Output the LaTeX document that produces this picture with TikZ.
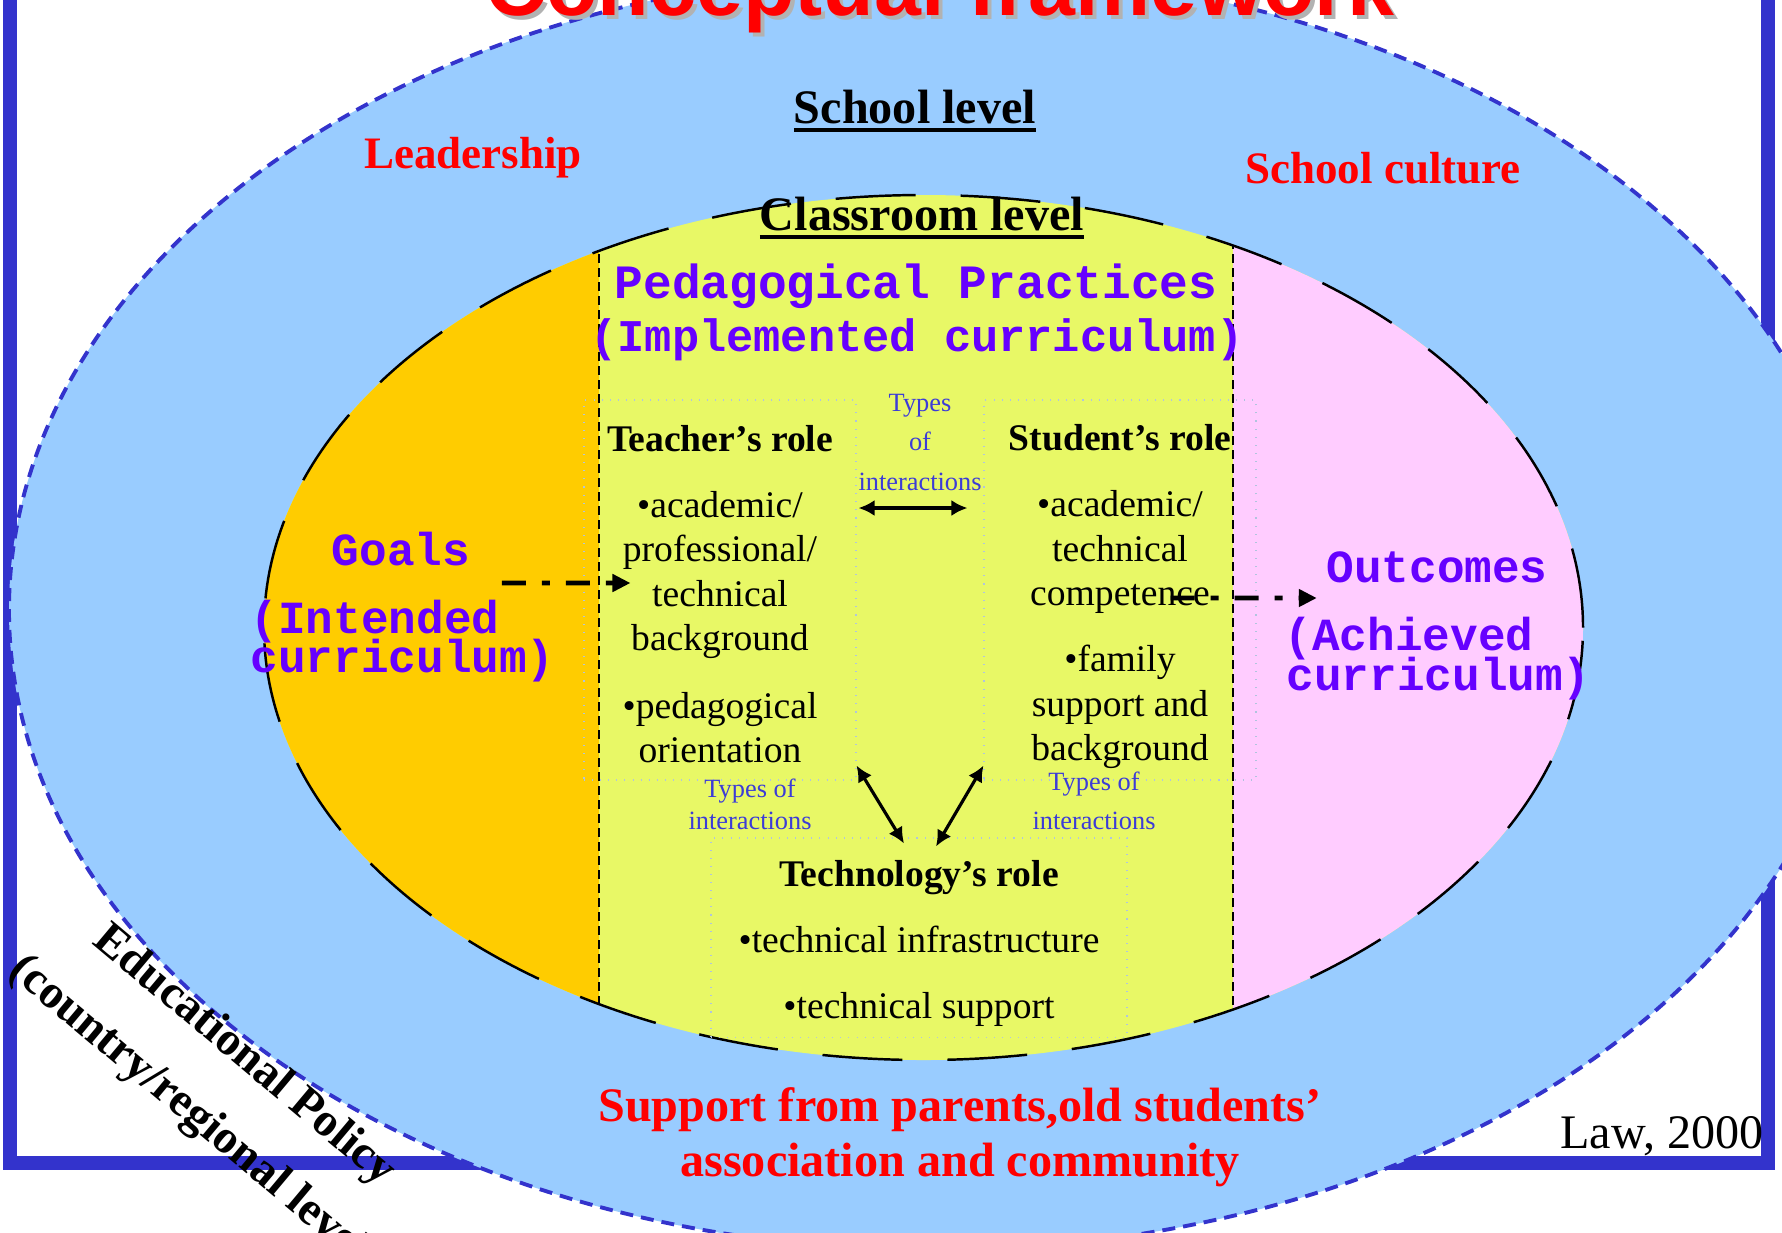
\documentclass[tikz,border=0pt]{standalone}
\usepackage{fontspec}
\setmainfont{Liberation Serif}
\newfontfamily\courierfont{Liberation Mono}
\newfontfamily\arialfont{Liberation Sans}
\usepackage{tikz}
\usetikzlibrary{arrows.meta,positioning}

\definecolor{frameblue}{RGB}{51,51,204}
\definecolor{schoolsky}{RGB}{153,204,255}
\definecolor{goalorange}{RGB}{255,204,0}
\definecolor{classyellow}{RGB}{232,248,102}
\definecolor{outpink}{RGB}{255,204,255}
\definecolor{curpurple}{RGB}{102,0,255}
\definecolor{typeblue}{RGB}{60,60,215}
\definecolor{boxgray}{RGB}{176,196,222}

\newsavebox\levelbox
\newcommand{\levelul}[1]{\sbox\levelbox{#1}\rlap{\rule[-2.6pt]{\wd\levelbox}{1.1pt}}\usebox\levelbox}

\begin{document}
\begin{tikzpicture}
				[inner sep=0pt,
				rolebox/.style		= {draw=boxgray, dotted, line width=0.3pt, align=center, font=\fontsize{10.7}{12.6}\selectfont},
				levelhead/.style	= {anchor=base, font=\bfseries\fontsize{13.7}{16}\selectfont},
				redhead/.style		= {anchor=base, text=red, font=\bfseries\fontsize{12.8}{15}\selectfont},
				curtext/.style		= {anchor=base, text=curpurple, font=\courierfont\bfseries\fontsize{13.1}{15}\selectfont},
				typetext/.style		= {anchor=north, text=typeblue, align=center, font=\fontsize{7.5}{11.1}\selectfont},
				flowarrow/.style	= {line width=1.4pt, dash pattern=on 0.24cm off 0.16cm on 0.08cm off 0.16cm, -{Triangle[length=0.18cm,width=0.17cm]}},
				linkarrow/.style	= {line width=0.9pt, {Latex[length=0.16cm,width=0.16cm]}-{Latex[length=0.16cm,width=0.16cm]}}]

				\useasboundingbox (0,0) rectangle (17.82,-12.32);

				% frame and the two levels
				\draw [frameblue, line width=0.14cm] (0.10,0.5) rectangle (17.68,-11.63);
				\draw [fill=schoolsky, draw=frameblue, line width=1.1pt, dash pattern=on 0.13cm off 0.08cm]
					(9.34,-6.10) ellipse [x radius=9.25cm, y radius=6.40cm];
				\fill [classyellow] (9.235,-6.275) ellipse [x radius=6.595cm, y radius=4.325cm];
				\begin{scope}
				\clip (9.235,-6.275) ellipse [x radius=6.595cm, y radius=4.325cm];
				\fill [goalorange] (2,-1) rectangle (5.99,-11);
				\fill [outpink] (12.33,-1) rectangle (16.5,-11);
				\draw [line width=0.8pt, dash pattern=on 0.09cm off 0.05cm] (5.99,-1) -- (5.99,-11) (12.33,-1) -- (12.33,-11);
				\end{scope}
				\draw [line width=0.7pt, dash pattern=on 0.8cm off 0.45cm]
					(9.235,-6.275) ellipse [x radius=6.595cm, y radius=4.325cm];

				% title
				\node [anchor=base, text=black!30, font=\arialfont\bfseries\fontsize{24}{28}\selectfont] at (9.44,-0.19) (titleshadow) {Conceptual framework};
				\node [anchor=base, text=red, font=\arialfont\bfseries\fontsize{24}{28}\selectfont] at (9.40,-0.15) (title) {Conceptual framework};

				% school level
				\node [levelhead]	at (9.15,-1.23)		(school)	{\levelul{School level}};
				\node [redhead]		at (4.73,-1.68)		(leader)	{Leadership};
				\node [redhead]		at (13.83,-1.83)	(culture)	{School culture};
				\node [anchor=north, align=center, text=red, font=\bfseries\fontsize{13.7}{15.6}\selectfont]
									at (9.60,-10.87)	(support)	{Support from parents,old students’\\association and community};

				% classroom level
				\node [levelhead]	at (9.22,-2.30)		(classroom)	{\levelul{Classroom level}};
				\node [curtext, font=\courierfont\bfseries\fontsize{13.6}{15}\selectfont]
									at (9.16,-2.98)		(pedagogy)	{Pedagogical Practices};
				\node [curtext, font=\courierfont\bfseries\fontsize{12.9}{15}\selectfont]
									at (9.17,-3.51)		(implemented)	{(Implemented curriculum)};
				\node [curtext]		at (4.01,-5.65)		(goals)		{Goals};
				\node [curtext, anchor=base west] at (2.50,-6.33) (intended)	{(Intended};
				\node [curtext, anchor=base west] at (2.50,-6.72) (intendedb)	{curriculum)};
				\node [curtext]		at (14.37,-5.82)	(outcomes)	{Outcomes};
				\node [curtext, anchor=base west] at (12.84,-6.50) (achieved)	{(Achieved};
				\node [curtext, anchor=base west] at (12.86,-6.90) (achievedb)	{curriculum)};

				% roles
				\node [rolebox, minimum width=2.72cm, minimum height=3.80cm] at (7.20,-5.90) (teacher)
					{\rule{0pt}{9.8pt}\textbf{Teacher’s role}\\[6.3pt] •academic/\\professional/\\technical\\background\\[6.8pt] •pedagogical\\orientation};
				\node [rolebox, minimum width=2.72cm, minimum height=3.80cm] at (11.20,-5.90) (student)
					{\rule{0pt}{11pt}\textbf{Student’s role}\\[6.3pt] •academic/\\technical\\competence\\[6.3pt] •family\\support and\\background};
				\node [rolebox, minimum width=4.16cm, minimum height=1.99cm] at (9.19,-9.375) (tech)
					{\rule{0pt}{10.8pt}\textbf{Technology’s role}\\[6.3pt] •technical infrastructure\\[6.3pt] •technical support};

				\node [typetext]	at (9.20,-3.94)		(typestop)	{Types\\of\\interactions};
				\node [typetext, font=\fontsize{7.5}{9.1}\selectfont] at (7.50,-7.78) (typesleft) {Types of\\interactions};
				\node [typetext]	at (10.94,-7.71)	(typesright)	{Types of\\interactions};

				\draw [linkarrow] ([xshift=0.2mm, yshift=8.2mm]teacher.east) -- ([xshift=-1.6mm, yshift=8.2mm]student.west);
				\draw [linkarrow] ([yshift=1.5mm]teacher.south east) -- ([xshift=-1.5mm, yshift=-0.6mm]tech.north);
				\draw [linkarrow] ([yshift=1.5mm]student.south west) -- ([xshift=1.7mm, yshift=-0.9mm]tech.north);

				\draw [flowarrow] ([xshift=3.1mm, yshift=-1.8mm]goals.base east) -- ([xshift=4.7mm, yshift=0.7mm]teacher.west);
				\draw [flowarrow] ([xshift=-8.6mm, yshift=-0.8mm]student.east) -- ([xshift=-0.9mm, yshift=-1.6mm]outcomes.base west);

				% policy level
				\node [rotate=-40, align=center, font=\bfseries\fontsize{13.4}{22}\selectfont] at (2.19,-10.86) (policy)
					{Educational Policy\\(country/regional level)};
				\node [anchor=base east, font=\fontsize{13.7}{16}\selectfont] at (17.64,-11.48) (law) {Law, 2000};
\end{tikzpicture}
\end{document}
